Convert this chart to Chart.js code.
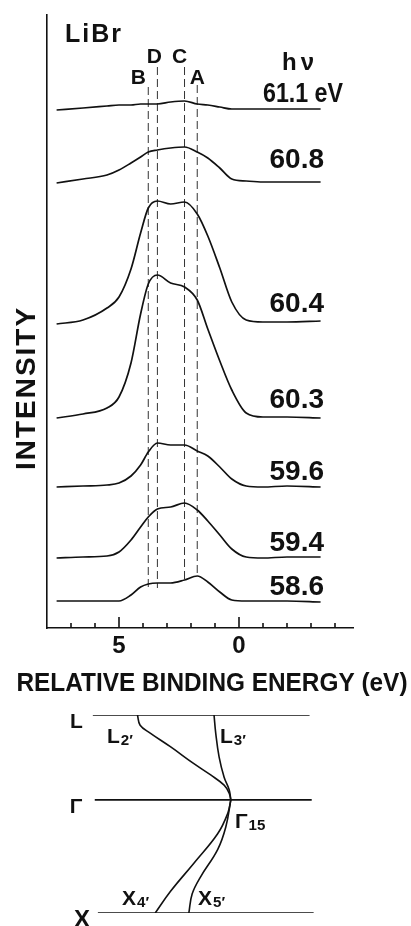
<!DOCTYPE html>
<html>
<head>
<meta charset="utf-8">
<script src="https://cdn.jsdelivr.net/npm/chart.js@4.4.1/dist/chart.umd.min.js"></script>
<style>
  html, body { margin: 0; padding: 0; background: #fff; }
  #wrap { position: relative; width: 411px; height: 926px; overflow: hidden; background: #fff; }
  #spectra { position: absolute; left: 0; top: 0; }
  #bands { position: absolute; left: 0; top: 700px; }
</style>
</head>
<body>
<div id="wrap">
  <canvas id="spectra" width="411" height="700"></canvas>
  <canvas id="bands" width="411" height="226"></canvas>
</div>
<script>
// relative binding energy grid (eV), shared by every spectrum
const energies = [7.6, 6.5, 5.5, 5.0, 4.5, 4.1, 3.78, 3.4, 2.85, 2.27, 1.74, 1.3, 0.8, 0.3, -0.3, -1.0, -2.0, -3.4];

// photon energies, top trace first
const photonLabels = ['61.1 eV', '60.8', '60.4', '60.3', '59.6', '59.4', '58.6'];
// vertical offset of each trace (arb. units)
const offsets = [518, 445, 304, 210, 141, 70, 27];

// intensities above each trace's baseline (arb. units)
const i611 = [0, 2, 4, 5, 5, 6, 6, 6, 8, 9, 6, 5, 3, 1, 1, 1, 1, 1];
const i608 = [0, 4, 8, 13, 20, 26, 31, 33, 35, 36, 31, 25, 15, 4, 2, 1, 1, 1];
const i604 = [0, 4, 16, 27, 55, 91, 116, 123, 120, 122, 110, 88, 56, 22, 4, 2, 2, 3];
const i603 = [0, 4, 10, 21, 55, 104, 134, 143, 135, 131, 118, 89, 57, 28, 5, 1, 1, 0];
const i596 = [0, 1, 2, 4, 11, 22, 35, 44, 42, 42, 36, 31, 20, 8, 1, 0, 1, 0];
const i594 = [0, 1, 2, 6, 18, 31, 41, 49, 51, 55, 48, 37, 23, 9, 1, 0, 1, 1];
const i586 = [0, 0, 0, 0, 6, 14, 17, 18, 18, 21, 25, 19, 9, 1, 0, 0, 0, -1];
const spectra = [i611, i608, i604, i603, i596, i594, i586];

// structures marked by dashed lines
const peakNames = ['B', 'D', 'C', 'A'];
const peakEnergies = [3.78, 3.4, 2.27, 1.74];

// x axis
const xMin = -4.75, xMax = 8.0;
const labelledTicks = [5, 0];

// band structure sketch: symmetry points along k
const symNames = ['L', 'Γ', 'X'];
const symK = [0, 0.75, 1.75];
const symFrom = [6.09, 6.01, 5.88];
const symTo = [-2.94, -3.03, -3.11];

const l2E = [4.23, 4.12, 3.70, 2.86, 1.88, 1.18, 0.62, 0.41, 0.34];
const l2K = [0, 0.09, 0.16, 0.28, 0.43, 0.53, 0.62, 0.69, 0.75];
const l3E = [1.04, 0.97, 0.83, 0.62, 0.41, 0.34];
const l3K = [0, 0.16, 0.37, 0.55, 0.66, 0.75];
const x4E = [0.34, 0.47, 0.89, 1.88, 2.86, 3.49];
const x4K = [0.75, 0.87, 1.05, 1.31, 1.56, 1.75];
const x5E = [0.34, 0.55, 0.89, 1.60, 1.95, 2.09];
const x5K = [0.75, 0.99, 1.19, 1.43, 1.58, 1.75];

const ink = '#111';
const FONT = '"Liberation Sans", Arial, sans-serif';

function textAt(ctx, str, x, yc, size, opts = {}) {
    ctx.save();
    ctx.font = `${opts.weight || 'bold'} ${size}px ${FONT}`;
    ctx.fillStyle = ink;
    ctx.textAlign = opts.align || 'left';
    ctx.textBaseline = 'alphabetic';
    if (opts.spacing) ctx.letterSpacing = opts.spacing + 'px';
    if (opts.maxWidth) ctx.fillText(str, x, yc + 0.36 * size, opts.maxWidth);
    else ctx.fillText(str, x, yc + 0.36 * size);
    ctx.restore();
}

// label with a subscript, e.g. L2'
function subLabel(ctx, main, sub, left, yc, size) {
    textAt(ctx, main, left, yc, size);
    ctx.save();
    ctx.font = `bold ${size}px ${FONT}`;
    const w = ctx.measureText(main).width;
    ctx.restore();
    textAt(ctx, sub, left + w + 1, yc + 4, size * 0.72);
}

const spectraDatasets = spectra.map((vals, i) => ({
    data: energies.map((e, j) => ({ x: e, y: offsets[i] + vals[j] })),
    borderColor: ink,
    borderWidth: 1.7,
    pointRadius: 0,
    cubicInterpolationMode: 'monotone',
    fill: false
}));

// dashed markers, top and bottom ends in y units
const markerTop = [541, 561, 561, 543];
const markerBottom = [40, 40, 48, 52];
const markerDatasets = peakEnergies.map((e, i) => ({
    data: [{ x: e, y: markerTop[i] }, { x: e, y: markerBottom[i] }],
    borderColor: '#333',
    borderWidth: 1,
    borderDash: [8, 4],
    pointRadius: 0,
    fill: false
}));

const spectraText = {
    id: 'spectraText',
    afterDraw(chart) {
        const { ctx, chartArea, scales: { x } } = chart;

        // inward tick marks
        ctx.save();
        ctx.strokeStyle = ink;
        ctx.lineWidth = 1.6;
        x.ticks.forEach(t => {
            const px = x.getPixelForValue(t.value);
            if (px < chartArea.left + 6) return;
            const len = labelledTicks.includes(t.value) ? 11 : 5;
            ctx.beginPath();
            ctx.moveTo(px, chartArea.bottom);
            ctx.lineTo(px, chartArea.bottom - len);
            ctx.stroke();
        });
        ctx.restore();

        textAt(ctx, 'LiBr', 65, 33, 25, { spacing: 2 });
        textAt(ctx, 'hν', 300, 61, 24, { align: 'center', spacing: 4 });

        const labelY = [92, 158, 302, 398, 470, 541, 585];
        photonLabels.forEach((s, i) => {
            if (i === 0) textAt(ctx, s, 343, labelY[i], 28, { align: 'right', maxWidth: 80 });
            else textAt(ctx, s, 324, labelY[i], 28, { align: 'right' });
        });

        const peakLabelY = [76, 55, 55, 76];
        const peakLabelDx = [-10, -3, -5, 0];
        peakNames.forEach((n, i) => {
            const px = x.getPixelForValue(peakEnergies[i]) + peakLabelDx[i];
            textAt(ctx, n, px, peakLabelY[i], 21, { align: 'center' });
        });

        ctx.save();
        ctx.translate(25, 388);
        ctx.rotate(-Math.PI / 2);
        textAt(ctx, 'INTENSITY', 0, 0, 28, { align: 'center', spacing: 2 });
        ctx.restore();

        textAt(ctx, 'RELATIVE BINDING ENERGY (eV)', 212, 682, 26, { align: 'center', maxWidth: 391 });
    }
};

new Chart(document.getElementById('spectra'), {
    type: 'line',
    data: { datasets: [...spectraDatasets, ...markerDatasets] },
    options: {
        responsive: false,
        animation: false,
        layout: { padding: { left: 47, right: 58, top: 15, bottom: 32 } },
        plugins: { legend: { display: false }, tooltip: { enabled: false } },
        scales: {
            x: {
                type: 'linear',
                reverse: true,
                min: xMin,
                max: xMax,
                afterFit: s => { s.height = 40; },
                grid: { display: false, drawTicks: false, tickLength: 0 },
                border: { display: true, color: ink, width: 1.6 },
                ticks: {
                    stepSize: 1,
                    includeBounds: false,
                    autoSkip: false,
                    maxRotation: 0,
                    padding: 4,
                    color: ink,
                    font: { family: 'Liberation Sans', size: 24, weight: 'bold', lineHeight: 1.2 },
                    callback: v => labelledTicks.includes(v) ? String(v) : ''
                }
            },
            y: {
                type: 'linear',
                min: 0,
                max: 613,
                afterFit: s => { s.width = 0; },
                grid: { display: false, drawTicks: false, tickLength: 0 },
                border: { display: true, color: ink, width: 1.6 },
                ticks: { display: false }
            }
        }
    },
    plugins: [spectraText]
});

// ---- band structure sketch ----
const symDatasets = symNames.map((n, i) => ({
    data: [{ x: symFrom[i], y: symK[i] }, { x: symTo[i], y: symK[i] }],
    borderColor: ink,
    borderWidth: 1.7,
    pointRadius: 0
}));
const bandDatasets = [[l2E, l2K], [l3E, l3K], [x4E, x4K], [x5E, x5K]].map(([es, ks]) => ({
    data: es.map((e, j) => ({ x: e, y: ks[j] })),
    borderColor: ink,
    borderWidth: 1.6,
    pointRadius: 0,
    tension: 0.4
}));

const bandText = {
    id: 'bandText',
    afterDraw(chart) {
        const { ctx } = chart;
        textAt(ctx, 'L', 76.5, 20, 21, { align: 'center' });
        textAt(ctx, 'Γ', 76, 105, 21, { align: 'center' });
        textAt(ctx, 'X', 82, 218, 24, { align: 'center' });
        subLabel(ctx, 'L', '2′', 107, 35.5, 21);
        subLabel(ctx, 'L', '3′', 220, 35.5, 21);
        subLabel(ctx, 'Γ', '15', 235, 120.5, 21);
        subLabel(ctx, 'X', '4′', 122, 197.5, 21);
        subLabel(ctx, 'X', '5′', 198, 197.5, 21);
    }
};

new Chart(document.getElementById('bands'), {
    type: 'line',
    data: { datasets: [...symDatasets, ...bandDatasets] },
    options: {
        responsive: false,
        animation: false,
        layout: { padding: { left: 47, right: 58, top: 15, bottom: 13 } },
        plugins: { legend: { display: false }, tooltip: { enabled: false } },
        scales: {
            x: { type: 'linear', reverse: true, min: xMin, max: xMax, display: false },
            y: { type: 'linear', reverse: true, min: 0, max: 1.75, display: false }
        }
    },
    plugins: [bandText]
});
</script>
</body>
</html>
